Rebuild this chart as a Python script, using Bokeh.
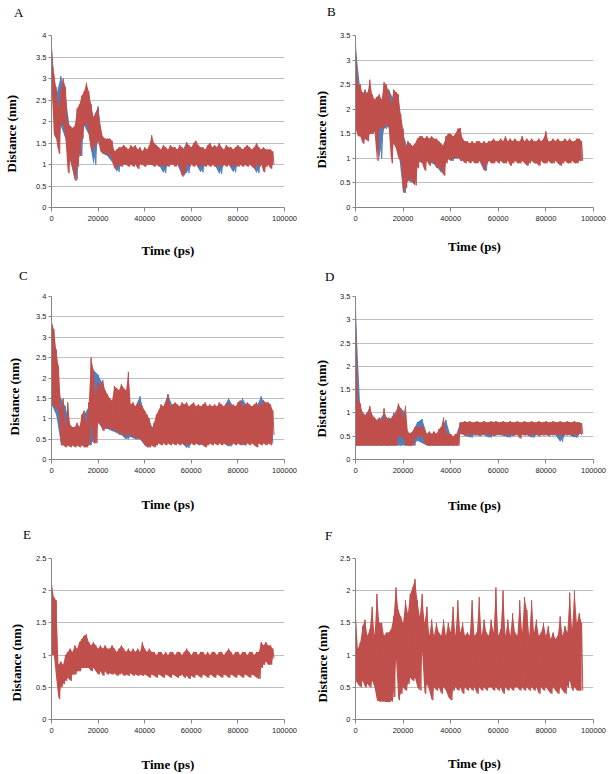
from bokeh.plotting import figure
from bokeh.layouts import gridplot
from bokeh.models import Range1d, FixedTicker, NumeralTickFormatter, Title
from bokeh.embed import file_html
from bokeh.resources import INLINE

BLUE = "#4F81BD"
RED = "#C0504D"

# Time sampling (ps): red traces every 1000 ps, blue traces every 2000 ps
RED_STEP = 1000
BLUE_STEP = 2000
X_TICKS = [0, 20000, 40000, 60000, 80000, 100000]
X_LABEL = "Time (ps)"
Y_LABEL = "Distance (nm)"

# ---------------- Panel A ----------------
A_RED_HI = [3.75,3.1,2.8,2.3,2.7,3.0,2.8,1.95,1.9,1.85,
            1.9,2.3,2.4,2.6,2.7,2.9,2.7,2.4,2.1,2.2,
            2.3,1.9,1.65,1.6,1.6,1.6,1.55,1.3,1.35,1.4,
            1.4,1.45,1.4,1.35,1.45,1.4,1.45,1.35,1.4,1.3,
            1.4,1.35,1.45,1.68,1.5,1.45,1.4,1.35,1.45,1.4,
            1.35,1.45,1.4,1.4,1.35,1.45,1.4,1.35,1.5,1.45,
            1.4,1.5,1.55,1.45,1.4,1.4,1.35,1.45,1.5,1.4,
            1.45,1.4,1.5,1.4,1.35,1.45,1.4,1.4,1.35,1.4,
            1.45,1.4,1.35,1.4,1.45,1.4,1.35,1.4,1.5,1.4,
            1.35,1.4,1.35,1.35,1.35,1.3]
A_RED_LO = [2.9,1.7,1.6,1.25,1.9,2.0,1.6,0.8,1.1,0.9,
            0.62,0.95,1.2,1.6,1.9,2.0,1.7,1.3,1.4,1.5,
            1.55,1.3,1.25,1.3,1.2,1.25,1.1,0.9,0.95,1.0,
            0.95,1.0,1.0,0.95,1.0,0.95,1.0,0.9,1.0,1.0,
            0.95,1.0,1.0,1.0,0.95,1.0,0.95,1.0,0.95,1.0,
            0.95,1.0,1.0,0.95,1.0,0.95,0.72,0.8,1.0,0.95,
            1.0,0.95,1.0,0.95,0.95,1.0,0.95,1.0,0.95,1.0,
            0.95,0.95,1.0,0.95,1.0,0.95,1.0,0.95,0.95,1.0,
            0.95,1.0,0.95,1.0,0.95,1.0,0.95,0.9,1.0,0.95,
            1.0,0.82,0.95,1.0,0.9,1.0]
A_BLUE_HI = [3.7,2.6,3.05,2.6,1.8,1.8,2.3,2.6,2.6,2.1,
             2.35,1.5,1.5,1.4,1.25,1.3,1.3,1.3,1.3,1.3,
             1.3,1.3,1.4,1.3,1.3,1.3,1.3,1.3,1.3,1.52,
             1.3,1.3,1.3,1.3,1.3,1.3,1.3,1.3,1.3,1.3,
             1.3,1.3,1.3,1.3,1.3,1.3,1.3,1.25]
A_BLUE_LO = [2.8,1.6,1.9,1.6,1.1,0.65,1.2,1.9,1.7,1.0,
             1.55,1.25,1.2,1.05,0.83,1.0,1.0,1.0,1.0,1.0,
             1.0,1.0,1.0,1.0,0.8,1.0,1.0,1.0,0.75,0.8,
             1.0,1.0,0.82,1.0,1.0,1.0,0.78,1.0,1.0,0.82,
             1.0,1.0,1.0,1.0,0.8,1.0,1.0,1.0]

# ---------------- Panel B ----------------
B_RED_HI = [3.35,2.5,2.5,2.3,2.4,2.3,2.6,2.3,2.2,2.25,
            2.3,2.2,2.55,2.5,2.35,2.1,2.4,2.35,2.3,1.9,
            1.6,1.2,1.35,1.3,1.25,1.3,1.4,1.45,1.45,1.4,
            1.45,1.4,1.45,1.4,1.4,1.35,1.3,1.25,1.45,1.5,
            1.5,1.45,1.5,1.6,1.62,1.4,1.35,1.35,1.3,1.35,
            1.3,1.35,1.35,1.3,1.35,1.3,1.35,1.35,1.4,1.35,
            1.35,1.4,1.35,1.45,1.35,1.4,1.35,1.4,1.35,1.35,
            1.45,1.35,1.4,1.35,1.4,1.35,1.35,1.4,1.35,1.4,
            1.55,1.35,1.35,1.4,1.35,1.4,1.35,1.35,1.4,1.35,
            1.4,1.35,1.35,1.4,1.4,1.35]
B_RED_LO = [1.6,1.45,1.45,1.3,1.4,1.35,1.5,1.5,1.55,0.95,
            1.6,1.6,1.65,1.7,1.6,0.9,1.3,1.2,1.0,0.95,
            0.3,0.4,0.55,0.6,0.5,0.45,0.8,0.95,0.9,0.75,
            0.95,0.85,0.95,0.9,0.8,0.85,0.75,0.65,0.9,1.0,
            0.95,1.0,1.0,1.05,0.95,0.95,0.9,0.95,0.9,0.95,
            0.9,0.9,0.95,0.9,0.75,0.9,0.95,0.9,0.9,0.95,
            0.9,0.95,0.9,0.9,0.95,0.85,0.9,0.95,0.9,0.9,
            0.95,0.9,0.85,0.9,0.95,0.9,0.9,0.85,0.95,0.9,
            0.9,0.95,0.9,0.9,0.95,0.9,0.85,0.9,0.95,0.9,
            0.9,0.95,0.9,0.9,0.95,0.95]
B_BLUE_HI = [3.3,2.4,2.3,2.4,2.1,2.2,2.2,2.4,2.2,2.2,
             1.5,1.2,1.2,1.35,1.35,1.35,1.35,1.25,1.2,1.4,
             1.4,1.4,1.5,1.3,1.3,1.3,1.3,1.3,1.3,1.3,
             1.3,1.3,1.3,1.3,1.3,1.3,1.3,1.3,1.3,1.3,
             1.3,1.3,1.3,1.3,1.3,1.3,1.3,1.3]
B_BLUE_LO = [1.6,1.45,1.4,1.5,1.55,1.0,1.6,1.65,1.6,1.2,
             0.3,0.55,0.5,0.95,0.9,0.95,0.9,0.85,0.7,1.0,
             0.95,1.0,1.0,0.95,0.95,0.95,0.95,0.75,0.95,0.95,
             0.95,0.95,0.95,0.95,0.95,0.95,0.95,0.95,0.95,0.95,
             0.95,0.95,0.95,0.95,0.95,0.95,0.95,0.95]

# ---------------- Panel C ----------------
C_RED_HI = [3.4,3.2,2.7,2.3,1.2,1.5,0.8,1.4,0.85,0.8,
            0.8,0.9,0.8,1.1,1.2,0.85,1.4,2.5,2.2,1.6,
            1.9,1.8,1.95,1.7,1.6,1.5,1.45,1.8,1.75,1.7,
            1.85,1.75,1.7,2.15,1.35,1.4,1.3,1.4,1.35,1.3,
            1.2,1.1,1.0,0.75,0.9,1.1,1.2,1.35,1.3,1.4,
            1.6,1.3,1.35,1.4,1.35,1.3,1.4,1.35,1.4,1.3,
            1.35,1.4,1.3,1.35,1.3,1.35,1.4,1.3,1.35,1.3,
            1.35,1.3,1.4,1.35,1.3,1.35,1.4,1.3,1.35,1.3,
            1.4,1.45,1.35,1.3,1.4,1.35,1.3,1.35,1.4,1.3,
            1.35,1.45,1.4,1.4,1.35,1.2]
C_RED_LO = [1.4,1.3,1.25,1.2,0.35,0.35,0.3,0.35,0.3,0.35,
            0.3,0.35,0.3,0.35,0.3,0.3,0.35,0.9,0.4,0.4,
            0.9,0.85,0.7,0.8,0.75,0.8,0.7,0.75,0.7,0.6,
            0.7,0.55,0.6,0.65,0.55,0.6,0.5,0.55,0.5,0.45,
            0.35,0.3,0.3,0.35,0.3,0.35,0.4,0.35,0.4,0.35,
            0.4,0.35,0.4,0.35,0.4,0.35,0.4,0.35,0.4,0.35,
            0.4,0.35,0.4,0.35,0.4,0.35,0.3,0.35,0.4,0.35,
            0.4,0.35,0.4,0.35,0.4,0.35,0.4,0.35,0.4,0.35,
            0.4,0.35,0.4,0.35,0.4,0.35,0.4,0.35,0.3,0.4,
            0.35,0.4,0.35,0.4,0.35,0.6]
C_BLUE_HI = [3.3,2.5,1.5,1.3,0.75,0.75,0.75,1.1,1.3,2.2,
             2.08,1.85,1.5,1.4,1.7,1.7,1.7,1.3,1.3,1.55,
             1.1,0.95,0.7,1.1,1.3,1.6,1.3,1.3,1.3,1.3,
             1.3,1.3,1.3,1.3,1.3,1.3,1.3,1.3,1.5,1.3,
             1.3,1.5,1.3,1.3,1.3,1.55,1.3,1.2]
C_BLUE_LO = [1.35,1.1,0.4,0.35,0.35,0.35,0.35,0.35,0.35,0.45,
             0.9,0.75,0.75,0.7,0.65,0.6,0.5,0.55,0.5,0.5,
             0.35,0.35,0.35,0.4,0.4,0.4,0.4,0.4,0.4,0.28,
             0.4,0.4,0.35,0.4,0.4,0.4,0.4,0.4,0.32,0.4,
             0.4,0.35,0.4,0.4,0.4,0.4,0.4,0.4]

# ---------------- Panel D ----------------
D_RED_HI = [3.3,1.3,1.2,1.0,0.95,1.0,1.15,0.95,0.9,0.85,
            0.9,0.8,1.1,0.85,0.9,0.85,1.0,0.95,1.2,1.1,
            0.9,1.15,0.6,0.55,0.6,0.7,0.7,0.7,0.72,0.65,
            0.55,0.6,0.55,0.6,0.55,0.65,0.7,0.9,0.6,0.55,
            0.55,0.5,0.55,0.55,0.8,0.8,0.82,0.8,0.82,0.8,
            0.8,0.82,0.8,0.8,0.82,0.8,0.8,0.82,0.8,0.82,
            0.8,0.8,0.82,0.8,0.8,0.82,0.8,0.8,0.82,0.8,
            0.8,0.82,0.8,0.8,0.82,0.8,0.8,0.82,0.8,0.8,
            0.82,0.8,0.8,0.82,0.8,0.8,0.82,0.8,0.8,0.82,
            0.8,0.8,0.82,0.8,0.8,0.78]
D_RED_LO = [0.3,0.3,0.3,0.3,0.3,0.3,0.3,0.3,0.3,0.3,
            0.3,0.3,0.3,0.3,0.3,0.3,0.3,0.3,0.5,0.5,
            0.45,0.3,0.3,0.3,0.3,0.45,0.5,0.5,0.5,0.35,
            0.3,0.3,0.3,0.3,0.3,0.3,0.3,0.3,0.3,0.3,
            0.3,0.3,0.3,0.3,0.55,0.55,0.5,0.55,0.53,0.55,
            0.52,0.55,0.5,0.55,0.53,0.55,0.52,0.55,0.5,0.55,
            0.53,0.55,0.5,0.55,0.52,0.55,0.5,0.55,0.53,0.45,
            0.55,0.52,0.55,0.5,0.55,0.53,0.55,0.5,0.55,0.52,
            0.55,0.5,0.55,0.53,0.55,0.52,0.55,0.5,0.55,0.53,
            0.55,0.5,0.55,0.52,0.55,0.55]
D_BLUE_HI = [3.25,1.1,0.95,1.1,0.85,0.85,1.0,0.85,0.95,1.15,
             1.05,0.55,0.6,0.8,0.87,0.55,0.55,0.55,0.65,0.85,
             0.5,0.5,0.78,0.78,0.78,0.78,0.78,0.78,0.78,0.78,
             0.78,0.78,0.78,0.78,0.78,0.78,0.78,0.78,0.78,0.78,
             0.78,0.78,0.78,0.78,0.78,0.78,0.78,0.78]
D_BLUE_LO = [0.3,0.3,0.3,0.3,0.3,0.3,0.3,0.3,0.3,0.3,
             0.3,0.3,0.3,0.4,0.35,0.3,0.3,0.3,0.3,0.3,
             0.3,0.3,0.55,0.52,0.47,0.52,0.52,0.52,0.47,0.52,
             0.52,0.52,0.47,0.52,0.52,0.52,0.52,0.47,0.52,0.52,
             0.52,0.52,0.52,0.38,0.52,0.52,0.47,0.52]

# ---------------- Panel E ----------------
E_RED_HI = [2.15,1.9,1.85,0.85,0.9,0.85,1.0,1.05,1.1,1.05,
            1.15,1.1,1.2,1.25,1.3,1.32,1.2,1.15,1.2,1.15,
            1.1,1.15,1.1,1.15,1.1,1.1,1.15,1.1,1.05,1.1,
            1.15,1.1,1.05,1.1,1.05,1.1,1.05,1.1,1.05,1.2,
            1.1,1.05,1.1,1.05,1.05,1.0,1.05,1.05,1.0,1.05,
            1.0,1.05,1.05,1.0,1.05,1.05,1.0,1.05,1.1,1.05,
            1.0,1.05,1.05,1.0,1.05,1.05,1.0,1.05,1.0,1.05,
            1.05,1.0,1.05,1.05,1.0,1.05,1.1,1.05,1.0,1.05,
            1.05,1.0,1.05,1.05,1.0,1.05,1.05,1.0,1.05,1.05,
            1.2,1.15,1.2,1.15,1.15,1.1]
E_RED_LO = [1.0,1.0,0.65,0.32,0.5,0.55,0.6,0.65,0.6,0.7,
            0.7,0.75,0.75,0.8,0.8,0.8,0.8,0.75,0.8,0.75,
            0.7,0.75,0.68,0.75,0.7,0.72,0.7,0.72,0.68,0.7,
            0.72,0.68,0.7,0.68,0.72,0.68,0.7,0.68,0.7,0.68,
            0.7,0.68,0.65,0.7,0.68,0.65,0.7,0.68,0.65,0.7,
            0.68,0.65,0.7,0.68,0.65,0.68,0.7,0.65,0.68,0.63,
            0.68,0.65,0.7,0.68,0.65,0.7,0.68,0.65,0.7,0.68,
            0.65,0.7,0.68,0.65,0.7,0.68,0.65,0.7,0.68,0.65,
            0.7,0.68,0.65,0.7,0.68,0.65,0.7,0.68,0.65,0.63,
            0.8,0.85,0.9,0.85,0.85,0.95]

# ---------------- Panel F ----------------
F_RED_HI = [1.68,1.1,1.2,1.45,1.55,1.3,1.4,1.75,1.3,1.95,
            1.5,1.5,1.3,1.35,1.35,1.4,1.6,2.05,1.7,1.6,
            1.5,1.85,1.65,1.95,2.05,2.18,1.85,1.6,1.95,1.5,
            1.75,1.3,1.55,1.3,1.5,1.35,1.3,1.55,1.3,1.5,
            1.35,1.75,1.3,1.85,1.35,1.5,1.3,1.35,1.3,1.85,
            1.3,1.35,1.9,1.3,1.55,1.35,1.3,1.55,1.35,2.05,
            1.3,1.4,2.0,1.3,1.55,1.3,1.65,1.35,1.3,1.85,
            1.35,1.9,1.7,1.3,1.85,1.35,1.55,1.3,1.35,1.5,
            1.3,1.45,1.25,1.35,1.25,1.3,1.6,1.3,1.45,1.35,
            1.97,1.4,2.0,1.5,1.65,1.5]
F_RED_LO = [0.6,0.55,0.5,0.6,0.5,0.55,0.5,0.6,0.5,0.3,
            0.28,0.28,0.28,0.27,0.27,0.28,0.35,0.95,0.3,0.4,
            0.5,0.45,0.55,0.65,0.6,0.65,0.5,0.45,1.05,0.4,
            0.55,0.45,0.3,0.5,0.45,0.5,0.4,0.5,0.45,0.35,
            0.3,0.45,0.5,0.45,0.5,0.4,0.5,0.45,0.5,0.45,
            0.5,0.4,0.5,0.45,0.5,0.45,0.5,0.5,0.45,0.5,
            0.45,0.5,0.4,0.5,0.45,0.5,0.45,0.5,0.5,0.45,
            0.5,0.45,0.5,0.45,0.5,0.45,0.5,0.4,0.5,0.45,
            0.5,0.45,0.4,0.5,0.45,0.4,0.5,0.45,0.4,0.5,
            0.6,0.45,0.5,0.45,0.45,0.45]

Y_MAX = {"A": 4.0, "B": 3.5, "C": 4.0, "D": 3.5, "E": 2.5, "F": 2.5}


def trace(hi, lo, step):
    n = min(len(hi), len(lo))
    t = [i * step for i in range(n)]
    xs, ys = [], []
    for ti, h, l in zip(t, hi, lo):
        xs += [ti, ti + step / 2]
        ys += [h, l]
    return t, xs, ys


def spacer(size):
    return Title(text=" ", text_font_size="1px", standoff=size)


def panel(letter, series, g):
    ymax = Y_MAX[letter]
    p = figure(width=g["w"], height=g["h"], output_backend="svg", toolbar_location=None,
               title=None,
               x_range=Range1d(0, 100000), y_range=Range1d(0, ymax),
               min_border_left=g["L"], min_border_right=g["R"],
               min_border_top=g["T"], min_border_bottom=g["B"])
    p.outline_line_color = None
    p.background_fill_color = "white"
    p.border_fill_color = "white"

    for hi, lo, step, col in series:
        t, xs, ys = trace(hi, lo, step)
        p.varea(x=t, y1=lo[:len(t)], y2=hi[:len(t)], fill_color=col, fill_alpha=1.0)
        p.line(xs, ys, line_color=col, line_width=1.0)

    yt = [k * 0.5 for k in range(int(round(ymax / 0.5)) + 1)]
    p.yaxis.ticker = FixedTicker(ticks=yt)
    p.yaxis.formatter = NumeralTickFormatter(format="0.[0]")
    p.xaxis.ticker = FixedTicker(ticks=X_TICKS)
    p.xaxis.formatter = NumeralTickFormatter(format="0")

    for ax in (p.xaxis[0], p.yaxis[0]):
        ax.axis_line_color = "#868686"
        ax.major_tick_line_color = "#868686"
        ax.minor_tick_line_color = None
        ax.major_tick_in = 0
        ax.major_label_text_font = "Liberation Sans"
        ax.major_label_text_font_size = "7.5px"
        ax.major_label_text_color = "#222222"
    p.xaxis.major_tick_out = 4
    p.xaxis.major_label_standoff = 4
    p.yaxis.major_tick_out = 3
    p.yaxis.major_label_standoff = 2

    ax = p.xaxis[0]
    ax.axis_label = X_LABEL
    ax.axis_label_standoff = int(g["xS"])
    ax.axis_label_text_font = "Liberation Serif"
    ax.axis_label_text_font_style = "bold"
    ax.axis_label_text_font_size = "13px"
    ax.axis_label_text_color = "black"

    p.xgrid.visible = False
    p.ygrid.grid_line_color = "#BFBFBF"
    p.ygrid.grid_line_width = 1

    # y label: spacer then rotated title on the left
    p.add_layout(spacer(g["ysp"]), "left")
    p.add_layout(Title(text=Y_LABEL, align="left", offset=g["yoff"], standoff=2,
                       text_font="Liberation Serif", text_font_size="13px",
                       text_font_style="bold", text_color="black"), "left")
    # panel letter: spacer then title above
    p.add_layout(spacer(g["tsp"]), "above")
    p.add_layout(Title(text=letter, align="left", offset=g["toff"], standoff=2,
                       text_font="Liberation Serif", text_font_size="13px",
                       text_font_style="normal", text_color="black"), "above")
    return p


GEOM = {
    "A": dict(w=304, h=260, L=51, R=15, T=33, B=53, xS=19, ysp=11, yoff=35, tsp=12, toff=-37.5),
    "B": dict(w=310, h=260, L=45, R=21, T=34, B=49, xS=15, ysp=5, yoff=39, tsp=13, toff=-28.5),
    "C": dict(w=304, h=260, L=50, R=13, T=36, B=60, xS=21, ysp=7.5, yoff=24, tsp=9.5, toff=-32.5),
    "D": dict(w=310, h=260, L=49, R=17, T=35, B=61, xS=22, ysp=4.5, yoff=22, tsp=8.5, toff=-30.5),
    "E": dict(w=304, h=254, L=46, R=20, T=38, B=55, xS=21, ysp=6, yoff=18, tsp=12.5, toff=-28.5),
    "F": dict(w=310, h=254, L=51, R=17, T=37, B=54, xS=20, ysp=3.5, yoff=17, tsp=11.5, toff=-30.5),
}

pA = panel("A", [(A_BLUE_HI, A_BLUE_LO, BLUE_STEP, BLUE), (A_RED_HI, A_RED_LO, RED_STEP, RED)], GEOM["A"])
pB = panel("B", [(B_BLUE_HI, B_BLUE_LO, BLUE_STEP, BLUE), (B_RED_HI, B_RED_LO, RED_STEP, RED)], GEOM["B"])
pC = panel("C", [(C_BLUE_HI, C_BLUE_LO, BLUE_STEP, BLUE), (C_RED_HI, C_RED_LO, RED_STEP, RED)], GEOM["C"])
pD = panel("D", [(D_BLUE_HI, D_BLUE_LO, BLUE_STEP, BLUE), (D_RED_HI, D_RED_LO, RED_STEP, RED)], GEOM["D"])
pE = panel("E", [(E_RED_HI, E_RED_LO, RED_STEP, RED)], GEOM["E"])
pF = panel("F", [(F_RED_HI, F_RED_LO, RED_STEP, RED)], GEOM["F"])

grid = gridplot([[pA, pB], [pC, pD], [pE, pF]], toolbar_location=None)

open("out.html", "w").write(file_html(grid, INLINE))
